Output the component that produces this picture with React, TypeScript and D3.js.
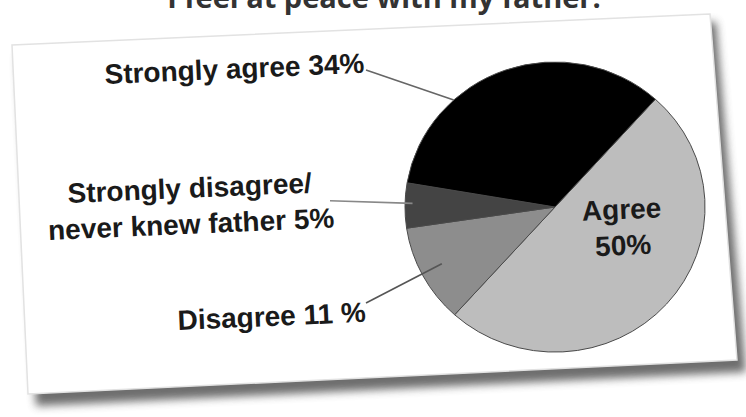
import React from 'react';
import * as d3 from 'd3';

// ---- data ----
const categories = ['Agree', 'Disagree', 'Strongly disagree/never knew father', 'Strongly agree'];
const values = [50, 11, 5, 34];
const labelLines = [['Agree', '50%'], ['Disagree 11 %'], ['Strongly disagree/', 'never knew father 5%'], ['Strongly agree 34%']];
const title = 'I feel at peace with my father.';

// ---- styles / layout ----
const sliceColors = ['#bdbdbd', '#8d8d8d', '#444444', '#000000'];
const W = 746;
const H = 417;
const cx = 555;
const cy = 207;
const R = 150;
const yScale = 0.967;
const tilt = -2.5;
const startDeg = 42;

// label anchors (text layout), leader definition: fraction within slice, radius factor
const labelLayout = [
  { x: 622, y: 219, anchor: 'middle' },
  { x: 178, y: 330, anchor: 'start' },
  { x: 190, y: 197.7, anchor: 'middle' },
  { x: 105, y: 84, anchor: 'start' },
];
const leaders = [
  null,
  { from: [366, 303], frac: 0.52, rf: 0.85, color: '#555' },
  { from: [330, 200.7], frac: 0.55, rf: 0.95, color: '#888' },
  { from: [366, 70], frac: 0.31, rf: 1.0, color: '#666' },
];

export default function App() {
  const pie = d3
    .pie<number>()
    .sort(null)
    .value((d) => d)
    .startAngle((startDeg * Math.PI) / 180)
    .endAngle((startDeg * Math.PI) / 180 + 2 * Math.PI);
  const arcs = pie(values);
  const arc = d3.arc<d3.PieArcDatum<number>>().innerRadius(0).outerRadius(R);

  const pt = (a: number, r: number) => {
    const [x, y] = d3.pointRadial(a, r);
    return [cx + x, cy + y * yScale];
  };

  const card = 'M12,45 L710,14 L737,360 L28,394 Z';
  const shadow = 'M18,55 L716,22 L746,372 L36,406 Z';

  return (
    <svg
      width={W}
      height={H}
      style={{ position: 'absolute', left: 0, top: 0, background: '#fff' }}
      fontFamily="'Liberation Sans', Arial, sans-serif"
    >
      <defs>
        <filter id="blur" x="-10%" y="-10%" width="120%" height="130%">
          <feGaussianBlur stdDeviation="4" />
        </filter>
      </defs>
      <rect width={W} height={H} fill="#fff" />
      <text
        x={384}
        y={8}
        textAnchor="middle"
        fontFamily="'Open Sans', sans-serif"
        fontWeight={700}
        fontSize={29}
        fill="#333"
      >
        {title}
      </text>
      <path d={shadow} fill="#5e5e5e" opacity={0.9} filter="url(#blur)" />
      <path d={card} fill="#fff" stroke="#e2e2e2" strokeWidth={1.5} />

      <g transform={`translate(${cx},${cy}) scale(1,${yScale})`}>
        {arcs.map((a, i) => (
          <path
            key={categories[i]}
            d={arc(a) as string}
            fill={sliceColors[i]}
            stroke="#4a4a4a"
            strokeWidth={1}
            vectorEffect="non-scaling-stroke"
          />
        ))}
      </g>

      {arcs.map((a, i) => {
        const L = leaders[i];
        if (!L) return null;
        const ang = a.startAngle + L.frac * (a.endAngle - a.startAngle);
        const [x2, y2] = pt(ang, R * L.rf);
        return (
          <line
            key={'l' + i}
            x1={L.from[0]}
            y1={L.from[1]}
            x2={x2}
            y2={y2}
            stroke={L.color}
            strokeWidth={1.6}
          />
        );
      })}

      {labelLines.map((lines, i) => {
        const p = labelLayout[i];
        return (
          <text
            key={'t' + i}
            transform={`translate(${p.x},${p.y}) rotate(${tilt})`}
            textAnchor={p.anchor}
            fontWeight={700}
            fontSize={28}
            fill="#1a1a1a"
          >
            {lines.map((s, j) => (
              <tspan key={j} x={0} dy={j === 0 ? 0 : 36}>
                {s}
              </tspan>
            ))}
          </text>
        );
      })}
    </svg>
  );
}
